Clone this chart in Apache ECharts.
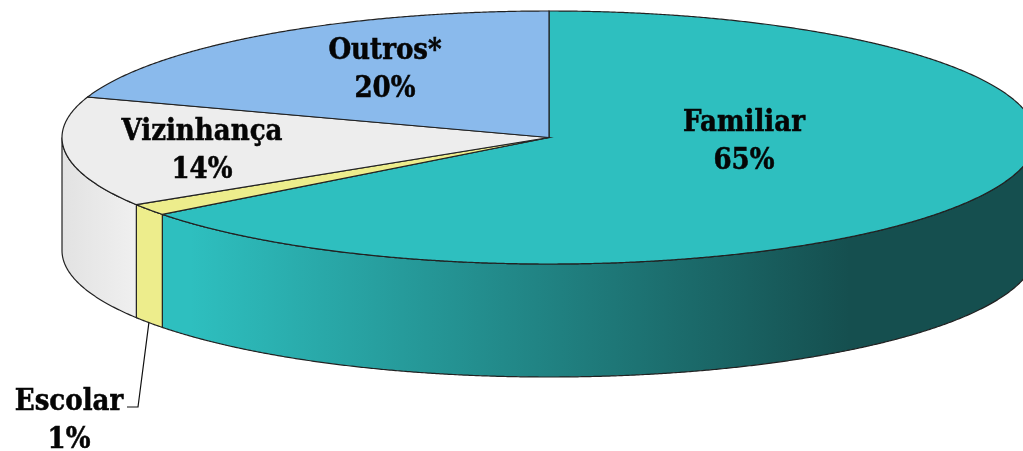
<!DOCTYPE html>
<html>
<head>
<meta charset="utf-8">
<style>html,body{margin:0;padding:0;background:#fff}#c{width:1023px;height:451px}</style>
<script src="https://cdn.jsdelivr.net/npm/echarts@6/dist/echarts.min.js"></script>
</head>
<body>
<div id="c"></div>
<script>
const categories = ['Familiar', 'Escolar', 'Vizinhança', 'Outros*'];
const shares = [64.6, 1.49, 14.1, 19.81];
const sliceColors = ['#2EBFBF', '#EDED8C', '#EDEDED', '#8ABAEC'];

const CX = 549, CY = 137.5, RX = 487, RY = 126.5, DEPTH = 113;
const labelAnchors = [[744, 142], [69, 421], [202, 151], [385, 70]];
const total = shares.reduce((a, b) => a + b, 0);
let run = 0;
const starts = shares.map(v => { const s = run; run += v; return s / total * 360; });

function pt(deg, dy) {
  const r = deg * Math.PI / 180;
  return [CX + RX * Math.sin(r), CY - RY * Math.cos(r) + (dy || 0)];
}
function arc(a, b, dy) {
  const pts = [];
  const n = Math.max(2, Math.ceil((b - a) * 4));
  for (let i = 0; i <= n; i++) pts.push(pt(a + (b - a) * i / n, dy));
  return pts;
}
function sideFill(i) {
  if (i === 0) return new echarts.graphic.LinearGradient(190, 0, 850, 0, [
    { offset: 0, color: '#2EBFBF' }, { offset: 1, color: '#154F4F' }], true);
  if (i === 2) return new echarts.graphic.LinearGradient(62, 0, 133, 0, [
    { offset: 0, color: '#E2E2E2' }, { offset: 1, color: '#EFEFEF' }], true);
  return sliceColors[i];
}
const edge = '#222';
function renderItem(params, api) {
  const i = params.dataIndex;
  const a = starts[i];
  const b = a + api.value(1) / total * 360;
  const kids = [];
  const va = Math.max(a, 90), vb = Math.min(b, 270);
  if (vb > va) {
    const top = arc(va, vb, 0);
    const bot = arc(va, vb, DEPTH).reverse();
    kids.push({ type: 'polygon', shape: { points: top.concat(bot) },
      style: { fill: sideFill(i), stroke: edge, lineWidth: 1.2 } });
  }
  kids.push({ type: 'polygon', shape: { points: [[CX, CY]].concat(arc(a, b, 0)) },
    style: { fill: sliceColors[i], stroke: edge, lineWidth: 1.2 } });
  if (i === 1) {
    const mid = pt((a + b) / 2, DEPTH);
    kids.push({ type: 'polyline', shape: { points: [mid, [138, 407], [127, 407]] },
      style: { fill: 'none', stroke: '#111', lineWidth: 1.2 } });
  }
  kids.push({ type: 'text', z2: 50, x: labelAnchors[i][0], y: labelAnchors[i][1],
    style: { text: categories[i] + '\n' + Math.round(api.value(1)) + '%', fill: '#050505',
      stroke: '#050505', lineWidth: 0.5,
      font: 'bold 29px "DejaVu Serif Condensed", "DejaVu Serif", serif',
      align: 'center', verticalAlign: 'middle', lineHeight: 38 } });
  return { type: 'group', children: kids };
}
const chart = echarts.init(document.getElementById('c'), null, { renderer: 'canvas' });
chart.setOption({
  backgroundColor: '#fff',
  animation: false,
  series: [{
    type: 'custom',
    coordinateSystem: 'none',
    renderItem,
    data: categories.map((c, i) => [c, shares[i]]),
    encode: { itemName: 0, value: 1 }
  }]
});
</script>
</body>
</html>
